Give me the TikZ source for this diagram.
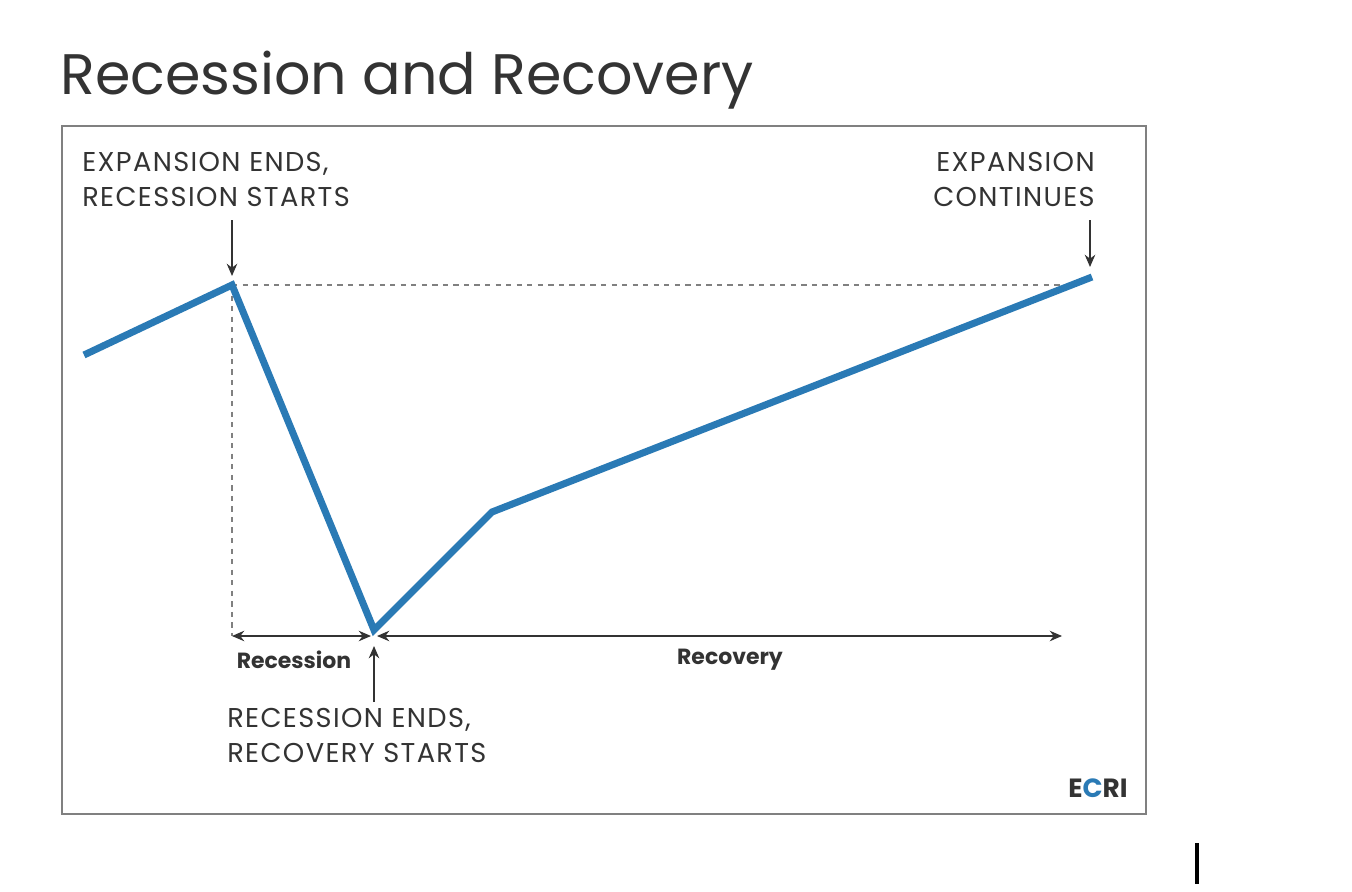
\documentclass[tikz,border=0pt]{standalone}
\usepackage{fontspec}
\setmainfont{Poppins}
\newfontfamily\widefont[LetterSpace=5]{Poppins}
\usetikzlibrary{arrows.meta}
\definecolor{ecriblue}{HTML}{2A7AB5}
\definecolor{ink}{HTML}{333333}
\begin{document}
\begin{tikzpicture}[x=0.02cm,y=-0.02cm,
  note/.style={text=ink,font=\widefont\fontsize{15.5}{20}\selectfont,inner sep=0pt},
  span/.style={text=ink,font=\fontsize{12.5}{16}\selectfont\bfseries,inner sep=0pt},
  pointer/.style={draw=ink,line width=0.8pt,-{Stealth[length=7pt,width=6pt]}},
  guide/.style={draw=gray,dashed,line width=0.6pt}]

% page and frame
\useasboundingbox (0,0) rectangle (1352,892);
\draw[gray,line width=0.8pt] (62,126) rectangle (1146,814);

% Title
\node[anchor=west,text=ink,font=\fontsize{32.5}{38}\selectfont,inner sep=0pt] (title) at (60,80) {Recession and Recovery};

% Cycle points
\coordinate (start) at (84,355);
\coordinate (peak) at (232,285);
\coordinate (trough) at (374,630);
\coordinate (knee) at (492,512);
\coordinate (last) at (1092,277);
\coordinate (peakend) at (1062,285);
\coordinate (peakfoot) at (232,636);

% Guides (draw first)
\draw[guide] (peak) -- (peakend);
\draw[guide] (peak) -- (peakfoot);

% Business cycle line
\draw[ecriblue,line width=4pt,line join=miter] (start) -- (peak) -- (trough) -- (knee) -- (last);

% Span arrows
\coordinate (recL) at (232,636);
\coordinate (recR) at (371,636);
\coordinate (rcvL) at (377,636);
\coordinate (rcvR) at (1062,636);
\draw[draw=ink,line width=0.8pt,{Stealth[length=7pt,width=6pt]}-{Stealth[length=7pt,width=6pt]}] (recL) -- (recR);
\draw[draw=ink,line width=0.8pt,{Stealth[length=7pt,width=6pt]}-{Stealth[length=7pt,width=6pt]}] (rcvL) -- (rcvR);
\node[span] (reclab) at (294,660) {Recession};
\node[span] (rcvlab) at (730,660) {Recovery};

% Notes
\node[note,anchor=north west,align=left] (endsnote) at (82,152) {EXPANSION ENDS,\\RECESSION STARTS};
\node[note,anchor=north east,align=right] (contnote) at (1095,152) {EXPANSION\\CONTINUES};
\node[note,anchor=north west,align=left] (troughnote) at (227,708) {RECESSION ENDS,\\RECOVERY STARTS};

% Pointers
\coordinate (p1a) at (232,220); \coordinate (p1b) at (232,276);
\coordinate (p2a) at (1090,220); \coordinate (p2b) at (1090,267);
\coordinate (p3a) at (374,702); \coordinate (p3b) at (374,646);
\draw[pointer] (p1a) -- (p1b);
\draw[pointer] (p2a) -- (p2b);
\draw[pointer] (p3a) -- (p3b);

% Logo
\node[inner sep=0pt,font=\fontsize{15}{18}\selectfont\bfseries,anchor=east] (logo) at (1128,788) {\textcolor{ink}{E}\textcolor{ecriblue}{C}\textcolor{ink}{RI}};

% stray mark
\draw[black,line width=2.2pt] (1197,843) -- (1197,884);
\end{tikzpicture}
\end{document}
